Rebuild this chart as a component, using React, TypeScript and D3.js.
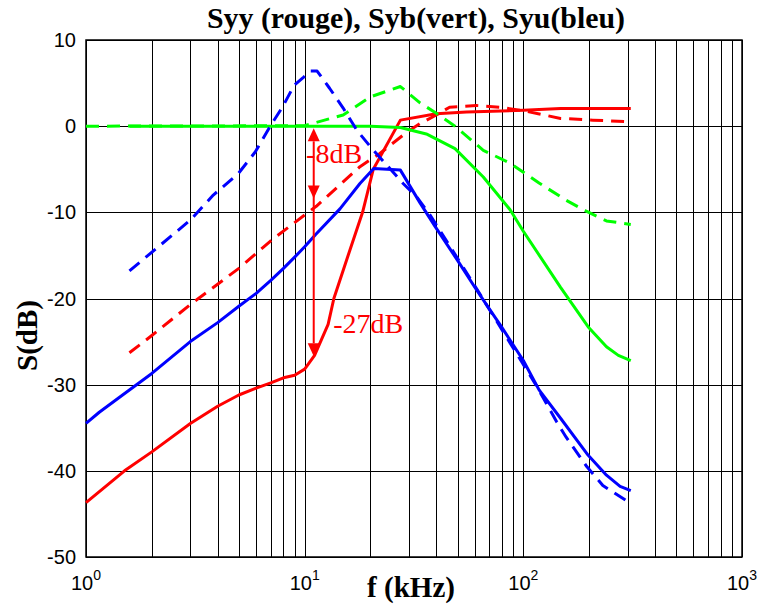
import React from "react";
import * as d3 from "d3";

// ---- data (f in kHz, S in dB) ----
const syyF = [1, 1.5, 2, 3, 4, 5, 6, 7, 8, 9, 10, 11.1, 12.8, 13.6, 15.8, 18.4, 20.6, 27.4, 40, 55, 100, 148, 310];
const syyS = [-43.7, -40.0, -37.8, -34.5, -32.5, -31.2, -30.4, -29.8, -29.2, -28.9, -28.2, -26.6, -23.0, -20.0, -15.0, -10.0, -5.0, 0.7, 1.45, 1.65, 1.85, 2.05, 2.05];

const syyDashF = [1.58, 2, 3, 5, 7, 10, 11.3, 14.5, 17.9, 22, 29.3, 33.7, 40, 46, 61, 78, 100, 148, 208, 310];
const syyDashS = [-26.3, -24.3, -20.7, -16.5, -13.3, -10.3, -9.3, -6.8, -4.7, -3.2, -0.7, 0.3, 1.3, 2.2, 2.4, 2.2, 1.8, 0.9, 0.7, 0.5];

const sybF = [1.58, 20, 27.4, 36, 48.7, 65.6, 87, 100, 148, 198, 240, 272, 310];
const sybS = [0, 0, -0.15, -0.9, -2.6, -5.9, -9.7, -12.2, -18.7, -23.3, -25.6, -26.6, -27.2];

const sybDashF = [1, 10, 11, 15, 20, 27.4, 33.7, 40, 48.7, 65.6, 87, 118, 157, 195, 240, 310];
const sybDashS = [0, 0.05, 0.35, 1.3, 3.4, 4.6, 2.7, 1.5, 0, -2.8, -4.3, -6.6, -8.6, -9.9, -11.0, -11.4];

const syuF = [1, 1.15, 1.47, 2, 3, 4, 5, 6, 7, 8, 9, 10, 11.2, 14.5, 17.9, 20.7, 27.4, 33.7, 39.4, 49.5, 60, 69, 79.5, 100, 118, 148, 198, 240, 277, 310];
const syuS = [-34.5, -33.2, -31.2, -28.7, -25.0, -22.8, -20.9, -19.4, -17.9, -16.5, -15.2, -14.0, -12.6, -9.6, -6.65, -4.9, -5.1, -8.9, -11.6, -15.4, -18.7, -21.0, -23.3, -27.2, -30.6, -33.9, -38.2, -40.5, -41.8, -42.3];

const syuDashF = [1.58, 3, 3.82, 4.97, 5.94, 6.96, 7.93, 8.96, 9.9, 10.6, 11.4, 13, 15, 17.3, 20, 23.7, 28.2, 32.5, 37.4, 45.3, 63, 75, 114, 142, 157, 195, 231, 310];
const syuDashS = [-16.8, -10.9, -8.0, -5.5, -3.0, 0, 2.25, 4.76, 5.7, 6.4, 6.4, 4.4, 2.1, -0.45, -2.4, -4.5, -6.65, -8.2, -10.3, -13.6, -19.4, -22.5, -30.0, -34.3, -36.1, -39.5, -41.7, -43.8];

const yTicks = [10, 0, -10, -20, -30, -40, -50];
const xDecades = [0, 1, 2, 3];

const arrowF = 11;
const arrowLevels = [-0.25, -8.4, -26.7];
const labelTop = { text: "-8dB", f: 10.15, s: -4.3 };
const labelBottom = { text: "-27dB", f: 13.5, s: -24.0 };

const title = "Syy (rouge), Syb(vert), Syu(bleu)";
const xLabel = "f (kHz)";
const yLabel = "S(dB)";

const RED = "#ff0000";
const GREEN = "#00ff00";
const BLUE = "#0000ff";

const SERIF = "'Liberation Serif', 'Times New Roman', Times, serif";

export default function App() {
  const W = 760, H = 608;
  const x = d3.scaleLog().domain([1, 1000]).range([86, 742]);
  const y = d3.scaleLinear().domain([-50, 10]).range([557, 40]);

  const line = d3
    .line<[number, number]>()
    .x((d) => x(d[0]))
    .y((d) => y(d[1]));

  const zip = (a: number[], b: number[]) => a.map((v, i) => [v, b[i]] as [number, number]);

  const minorF: number[] = [];
  for (let k = 0; k < 3; k++) {
    for (let m = 1; m <= 9; m++) minorF.push(m * Math.pow(10, k));
  }
  minorF.push(1000);

  const series = [
    { f: syyF, s: syyS, color: RED, dash: null },
    { f: syyDashF, s: syyDashS, color: RED, dash: "13 8" },
    { f: sybDashF, s: sybDashS, color: GREEN, dash: "13 8" },
    { f: sybF, s: sybS, color: GREEN, dash: null },
    { f: syuDashF, s: syuDashS, color: BLUE, dash: "13 8" },
    { f: syuF, s: syuS, color: BLUE, dash: null },
  ];

  const ax = x(arrowF);
  const aw = 6, ah = 13;
  const yTop = y(arrowLevels[0]);
  const yMid = y(arrowLevels[1]);
  const yBot = y(arrowLevels[2]);

  return (
    <svg
      width={W}
      height={H}
      style={{ position: "absolute", left: 0, top: 0, background: "#fff" }}
    >
      <rect x={0} y={0} width={W} height={H} fill="#fff" />
      {/* grid */}
      <g stroke="#000" strokeWidth={1}>
        {minorF.map((f) => (
          <line key={"v" + f} x1={Math.round(x(f)) + 0.5} x2={Math.round(x(f)) + 0.5} y1={40} y2={557} />
        ))}
        {yTicks.map((t) => (
          <line key={"h" + t} x1={86} x2={742} y1={Math.round(y(t)) + 0.5} y2={Math.round(y(t)) + 0.5} />
        ))}
      </g>
      <rect x={86} y={40} width={742 - 86} height={557 - 40} fill="none" stroke="#000" strokeWidth={1.5} />

      {/* curves */}
      {series.map((sr, i) => (
        <path
          key={i}
          d={line(zip(sr.f, sr.s)) || ""}
          fill="none"
          stroke={sr.color}
          strokeWidth={3}
          strokeDasharray={sr.dash || undefined}
          strokeLinejoin="round"
        />
      ))}

      {/* annotation arrows */}
      <g fill={RED} stroke={RED}>
        <line x1={ax} x2={ax} y1={yTop + ah} y2={yBot - ah} strokeWidth={2} />
        <polygon points={`${ax},${yTop} ${ax - aw},${yTop + ah} ${ax + aw},${yTop + ah}`} strokeWidth={0} />
        <polygon points={`${ax},${yMid} ${ax - aw},${yMid - ah} ${ax + aw},${yMid - ah}`} strokeWidth={0} />
        <polygon points={`${ax},${yBot} ${ax - aw},${yBot - ah} ${ax + aw},${yBot - ah}`} strokeWidth={0} />
      </g>
      <g fill={RED} fontFamily={SERIF} fontSize={28}>
        <text x={x(labelTop.f)} y={y(labelTop.s)}>{labelTop.text}</text>
        <text x={x(labelBottom.f)} y={y(labelBottom.s)}>{labelBottom.text}</text>
      </g>

      {/* tick labels */}
      <g fontFamily="'Liberation Sans', Arial, sans-serif" fontSize={20} fill="#000">
        {yTicks.map((t) => (
          <text key={"yl" + t} x={76} y={y(t) + 7} textAnchor="end">
            {t}
          </text>
        ))}
        {xDecades.map((k) => (
          <text key={"xl" + k} x={x(Math.pow(10, k))} y={590} textAnchor="middle">
            <tspan>10</tspan>
            <tspan dy={-10} fontSize={14}>
              {k}
            </tspan>
          </text>
        ))}
      </g>

      {/* titles */}
      <g fontFamily={SERIF} fontWeight="bold" fill="#000">
        <text x={207} y={28} fontSize={29} textLength={418} lengthAdjust="spacingAndGlyphs">
          {title}
        </text>
        <text x={367} y={597} fontSize={29} textLength={88} lengthAdjust="spacingAndGlyphs">
          {xLabel}
        </text>
        <text transform="translate(37,371) rotate(-90)" fontSize={29} textLength={71} lengthAdjust="spacingAndGlyphs">
          {yLabel}
        </text>
      </g>
    </svg>
  );
}
